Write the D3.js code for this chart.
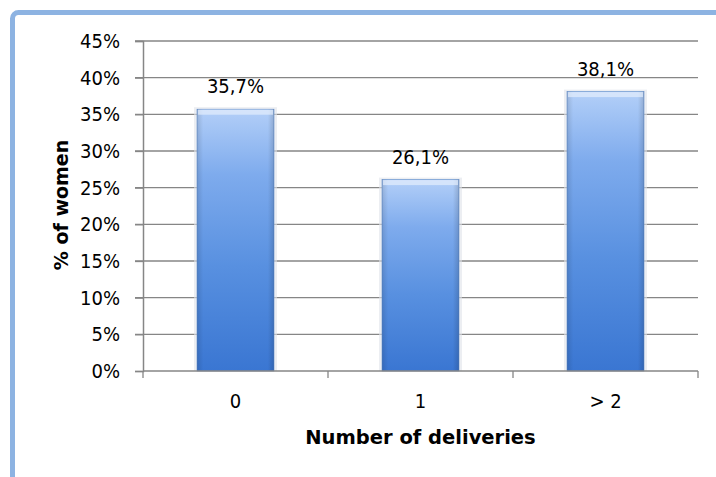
<!DOCTYPE html>
<html><head><meta charset="utf-8">
<script src="https://cdn.jsdelivr.net/npm/d3@7"></script>
<style>html,body{margin:0;padding:0;background:#fff;}svg{display:block;}</style>
</head><body>
<svg id="c" width="716" height="477"></svg>
<script>
const categories = ["0", "1", "> 2"];
const values = [35.7, 26.1, 38.1];
const valueLabels = ["35,7%", "26,1%", "38,1%"];
const yTicks = [0, 5, 10, 15, 20, 25, 30, 35, 40, 45];

(function () {
const svg = d3.select("#c");
const font = "'DejaVu Sans Condensed', 'DejaVu Sans', Tahoma, sans-serif";
const boldFont = "'DejaVu Sans', Tahoma, sans-serif";

// frame
svg.append("rect").attr("x", 12.5).attr("y", 12.5).attr("width", 800).attr("height", 600)
  .attr("rx", 6).attr("fill", "none").attr("stroke", "#8db3e2").attr("stroke-width", 5);

const pLeft = 143, pRight = 698, pTop = 41, pBottom = 371;
const x = d3.scaleBand().domain(categories).range([pLeft, pRight]).paddingInner(0.584).paddingOuter(0.292);
const y = d3.scaleLinear().domain([0, 45]).range([pBottom, pTop]);

const defs = svg.append("defs");
const g = defs.append("linearGradient").attr("id", "barGrad").attr("x1", 0).attr("x2", 0).attr("y1", 0).attr("y2", 1);
g.append("stop").attr("offset", "0%").attr("stop-color", "#b3cff8");
g.append("stop").attr("offset", "25%").attr("stop-color", "#7eabed");
g.append("stop").attr("offset", "60%").attr("stop-color", "#5890e0");
g.append("stop").attr("offset", "100%").attr("stop-color", "#3a76d2");
const gh = defs.append("linearGradient").attr("id", "sideGrad").attr("x1", 0).attr("x2", 1).attr("y1", 0).attr("y2", 0);
gh.append("stop").attr("offset", "0%").attr("stop-color", "#000").attr("stop-opacity", 0.12);
gh.append("stop").attr("offset", "8%").attr("stop-color", "#000").attr("stop-opacity", 0);
gh.append("stop").attr("offset", "92%").attr("stop-color", "#000").attr("stop-opacity", 0);
gh.append("stop").attr("offset", "100%").attr("stop-color", "#000").attr("stop-opacity", 0.15);

// gridlines
svg.append("g").selectAll("line").data(yTicks.filter(d => d > 0)).join("line")
  .attr("x1", pLeft - 8).attr("x2", pRight).attr("y1", d => y(d)).attr("y2", d => y(d))
  .attr("stroke", "#868686").attr("stroke-width", 1.3);

// y axis
const yAxis = d3.axisLeft(y).tickValues(yTicks).tickSize(8).tickPadding(15).tickFormat(d => d + "%");
const ya = svg.append("g").attr("transform", `translate(${pLeft},0)`).call(yAxis);
ya.select(".domain").attr("stroke", "#868686").attr("stroke-width", 1.5);
ya.selectAll(".tick line").attr("stroke", "#868686").attr("stroke-width", 1.3);
ya.selectAll("text").attr("font-family", font).attr("font-size", 20).attr("fill", "#000");

// bars
const bars = svg.append("g");
bars.selectAll("rect.shadow").data(values).join("rect").attr("class", "shadow")
  .attr("x", (d, i) => x(categories[i]) - 3).attr("width", x.bandwidth() + 6)
  .attr("y", d => y(d) - 2).attr("height", d => pBottom - y(d) + 2)
  .attr("fill", "#dfe3ea").attr("opacity", 0.6);
bars.selectAll("rect.bar").data(values).join("rect").attr("class", "bar")
  .attr("x", (d, i) => x(categories[i])).attr("width", x.bandwidth())
  .attr("y", d => y(d)).attr("height", d => pBottom - y(d))
  .attr("fill", "url(#barGrad)").attr("stroke", "#5a88c8").attr("stroke-width", 0.6);
bars.selectAll("rect.side").data(values).join("rect").attr("class", "side")
  .attr("x", (d, i) => x(categories[i])).attr("width", x.bandwidth())
  .attr("y", d => y(d)).attr("height", d => pBottom - y(d))
  .attr("fill", "url(#sideGrad)");
bars.selectAll("rect.topbev").data(values).join("rect").attr("class", "topbev")
  .attr("x", (d, i) => x(categories[i]) + 1).attr("width", x.bandwidth() - 2)
  .attr("y", d => y(d) + 0.5).attr("height", 5)
  .attr("fill", "#e4eefc").attr("opacity", 0.7);

// x axis
const xAxis = d3.axisBottom(x).tickSize(0).tickPadding(23);
const xa = svg.append("g").attr("transform", `translate(0,${pBottom})`).call(xAxis);
xa.select(".domain").remove();
xa.selectAll("text").attr("font-family", font).attr("font-size", 20).attr("fill", "#000");
svg.append("line").attr("x1", pLeft).attr("x2", pRight).attr("y1", pBottom).attr("y2", pBottom)
  .attr("stroke", "#868686").attr("stroke-width", 1.5);
const step = x.step();
const bounds = d3.range(categories.length + 1).map(i => pLeft + i * step);
svg.append("g").selectAll("line").data(bounds).join("line")
  .attr("x1", d => d).attr("x2", d => d).attr("y1", pBottom).attr("y2", pBottom + 7)
  .attr("stroke", "#868686").attr("stroke-width", 1.3);

// value labels
svg.append("g").selectAll("text").data(values).join("text")
  .attr("x", (d, i) => x(categories[i]) + x.bandwidth() / 2)
  .attr("y", d => y(d) - 16)
  .attr("text-anchor", "middle").attr("font-family", font).attr("font-size", 20).attr("fill", "#000")
  .text((d, i) => valueLabels[i]);

// titles
svg.append("text").attr("x", (pLeft + pRight) / 2).attr("y", 444).attr("text-anchor", "middle")
  .attr("font-family", boldFont).attr("font-size", 19.5).attr("font-weight", "bold").text("Number of deliveries");
svg.append("text").attr("transform", "translate(68,205) rotate(-90)").attr("text-anchor", "middle")
  .attr("font-family", boldFont).attr("font-size", 19).attr("font-weight", "bold").text("% of women");
})();
</script>
</body></html>
